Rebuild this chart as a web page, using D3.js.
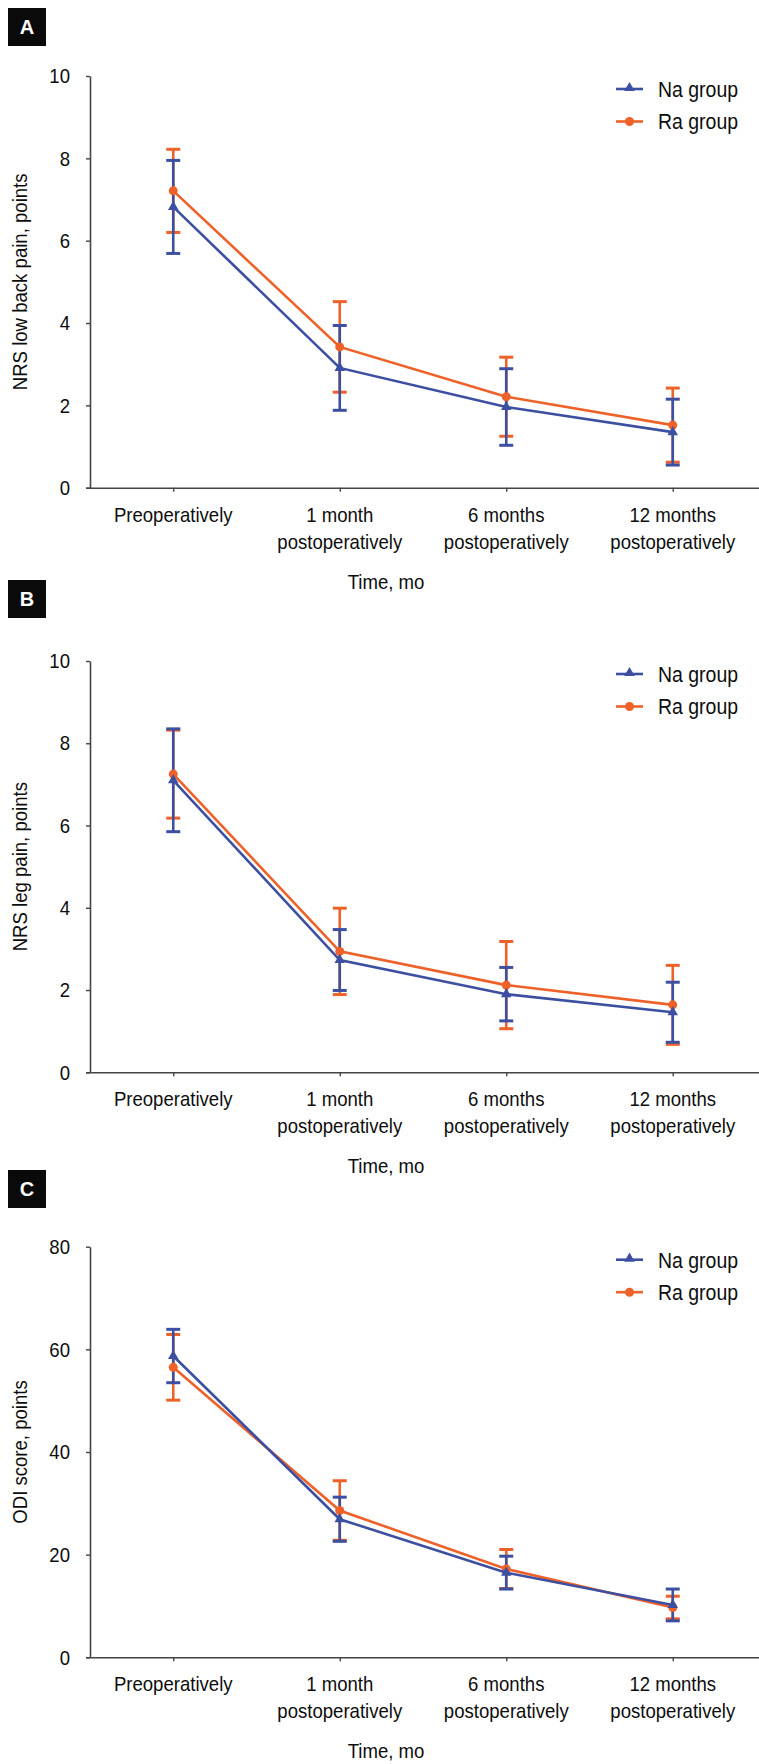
<!DOCTYPE html>
<html>
<head>
<meta charset="utf-8">
<script src="https://cdn.jsdelivr.net/npm/d3@7"></script>
<style>
  html, body { margin: 0; padding: 0; background: #fff; }
  svg text { font-family: "Liberation Sans", Arial, sans-serif; }
</style>
</head>
<body>
<div id="chart"></div>
<script>
const width = 759;
const height = 1764;

// time points (x axis), one array of lines per label
const categories = ['pre', 'm1', 'm6', 'm12'];
const categoryLines = [
  ['Preoperatively'],
  ['1 month', 'postoperatively'],
  ['6 months', 'postoperatively'],
  ['12 months', 'postoperatively']
];

const seriesNames = ['Na group', 'Ra group'];

// A: NRS low back pain (mean, SD)
const backNaMean = [6.82, 2.91, 1.96, 1.35];
const backNaSd = [1.13, 1.03, 0.93, 0.80];
const backRaMean = [7.21, 3.42, 2.21, 1.52];
const backRaSd = [1.01, 1.10, 0.96, 0.90];

// B: NRS leg pain
const legNaMean = [7.10, 2.73, 1.90, 1.46];
const legNaSd = [1.25, 0.74, 0.65, 0.73];
const legRaMean = [7.25, 2.94, 2.12, 1.64];
const legRaSd = [1.07, 1.05, 1.06, 0.96];

// C: ODI score
const odiNaMean = [58.7, 26.9, 16.5, 10.2];
const odiNaSd = [5.2, 4.3, 3.2, 3.1];
const odiRaMean = [56.5, 28.6, 17.2, 9.7];
const odiRaSd = [6.4, 5.8, 3.8, 2.2];

const yTicks10 = [0, 2, 4, 6, 8, 10];
const yTicks80 = [0, 20, 40, 60, 80];

const blue = '#3d4fa1';
const orange = '#ee6128';
const axisColor = '#444';
const textColor = '#0d0d0d';
const fontSize = '21px';
const narrow = 0.885; // squeeze to mimic the condensed face

const svg = d3.select('#chart')
  .append('svg')
  .attr('width', width)
  .attr('height', height)
  .attr('viewBox', `0 0 ${width} ${height}`);

const panels = [
  { letter: 'A', boxY: 8, top: 76, bottom: 487.7, yMax: 10, ticks: yTicks10,
    yTitle: 'NRS low back pain, points',
    na: [backNaMean, backNaSd], ra: [backRaMean, backRaSd] },
  { letter: 'B', boxY: 580, top: 661, bottom: 1072.3, yMax: 10, ticks: yTicks10,
    yTitle: 'NRS leg pain, points',
    na: [legNaMean, legNaSd], ra: [legRaMean, legRaSd] },
  { letter: 'C', boxY: 1170, top: 1246.7, bottom: 1657.3, yMax: 80, ticks: yTicks80,
    yTitle: 'ODI score, points',
    na: [odiNaMean, odiNaSd], ra: [odiRaMean, odiRaSd] }
];

const axisX = 90;

const xScale = d3.scalePoint()
  .domain(categories)
  .range([axisX, 756])
  .padding(0.5);

// text placed at (x, y) and squeezed horizontally
function narrowText(parent, x, y, anchor) {
  return parent.append('text')
    .attr('transform', `translate(${x},${y}) scale(${narrow},1)`)
    .attr('text-anchor', anchor)
    .attr('fill', textColor)
    .style('font-size', fontSize);
}

function drawPanel(p) {
  const g = svg.append('g');

  // panel letter box
  g.append('rect')
    .attr('x', 8).attr('y', p.boxY)
    .attr('width', 38).attr('height', 38)
    .attr('fill', '#0a0a0a');
  g.append('text')
    .attr('x', 27).attr('y', p.boxY + 19)
    .attr('text-anchor', 'middle')
    .attr('dominant-baseline', 'central')
    .attr('fill', '#fff')
    .style('font-weight', 'bold')
    .style('font-size', '20px')
    .text(p.letter);

  const yScale = d3.scaleLinear()
    .domain([0, p.yMax])
    .range([p.bottom, p.top]);

  // y axis
  const yAxis = g.append('g')
    .attr('transform', `translate(${axisX},0)`)
    .call(d3.axisLeft(yScale).tickValues(p.ticks).tickSize(4).tickSizeOuter(0).tickPadding(16));
  yAxis.attr('font-family', null).attr('font-size', null);
  yAxis.select('.domain').attr('stroke', axisColor).attr('stroke-width', 1.6);
  yAxis.selectAll('.tick line').attr('stroke', axisColor).attr('stroke-width', 1.4);
  yAxis.selectAll('.tick text')
    .attr('x', 0)
    .attr('transform', `translate(-20,0) scale(${narrow},1)`)
    .attr('fill', textColor)
    .style('font-size', fontSize);

  // x axis
  const xAxis = g.append('g')
    .attr('transform', `translate(0,${p.bottom})`)
    .call(d3.axisBottom(xScale).tickSize(4).tickSizeOuter(0).tickFormat(''));
  xAxis.attr('font-family', null).attr('font-size', null);
  xAxis.select('.domain')
    .attr('d', `M${axisX - 4},0.5H${width}`)
    .attr('stroke', axisColor).attr('stroke-width', 1.6);
  xAxis.selectAll('.tick line').attr('stroke', axisColor).attr('stroke-width', 1.4);

  // category labels (multi-line)
  const labels = g.append('g').attr('class', 'x-labels');
  categories.forEach((c, i) => {
    const t = narrowText(labels, xScale(c), p.bottom + 34, 'middle');
    categoryLines[i].forEach((line, j) => {
      t.append('tspan')
        .attr('x', 0)
        .attr('dy', j === 0 ? 0 : 27)
        .text(line);
    });
  });

  // axis titles
  narrowText(g, 386, p.bottom + 101, 'middle').text('Time, mo');

  g.append('text')
    .attr('transform', `translate(27,${(p.top + p.bottom) / 2}) rotate(-90) scale(${narrow},1)`)
    .attr('text-anchor', 'middle')
    .attr('fill', textColor)
    .style('font-size', fontSize)
    .text(p.yTitle);

  const makeRows = ([mean, sd]) => categories.map((c, i) => ({ c, mean: mean[i], sd: sd[i] }));
  const naRows = makeRows(p.na);
  const raRows = makeRows(p.ra);

  const line = d3.line()
    .x(d => xScale(d.c))
    .y(d => yScale(d.mean));

  function errorBars(rows, color) {
    const eb = g.append('g').attr('stroke', color).attr('stroke-width', 2.6).attr('fill', 'none');
    eb.selectAll('line.v')
      .data(rows)
      .join('line')
      .attr('class', 'v')
      .attr('x1', d => xScale(d.c)).attr('x2', d => xScale(d.c))
      .attr('y1', d => yScale(d.mean - d.sd)).attr('y2', d => yScale(d.mean + d.sd));
    eb.selectAll('line.top')
      .data(rows)
      .join('line')
      .attr('class', 'top')
      .attr('x1', d => xScale(d.c) - 7).attr('x2', d => xScale(d.c) + 7)
      .attr('y1', d => yScale(d.mean + d.sd)).attr('y2', d => yScale(d.mean + d.sd))
      .attr('stroke-width', 3);
    eb.selectAll('line.bot')
      .data(rows)
      .join('line')
      .attr('class', 'bot')
      .attr('x1', d => xScale(d.c) - 7).attr('x2', d => xScale(d.c) + 7)
      .attr('y1', d => yScale(d.mean - d.sd)).attr('y2', d => yScale(d.mean - d.sd))
      .attr('stroke-width', 3);
  }

  errorBars(raRows, orange);
  errorBars(naRows, blue);

  // Ra line + circles
  g.append('path')
    .datum(raRows)
    .attr('d', line)
    .attr('fill', 'none')
    .attr('stroke', orange)
    .attr('stroke-width', 2.6);
  g.append('g')
    .selectAll('circle')
    .data(raRows)
    .join('circle')
    .attr('cx', d => xScale(d.c))
    .attr('cy', d => yScale(d.mean))
    .attr('r', 4.5)
    .attr('fill', orange);

  // Na line + triangles
  g.append('path')
    .datum(naRows)
    .attr('d', line)
    .attr('fill', 'none')
    .attr('stroke', blue)
    .attr('stroke-width', 2.6);
  g.append('g')
    .selectAll('path')
    .data(naRows)
    .join('path')
    .attr('transform', d => `translate(${xScale(d.c)},${yScale(d.mean)})`)
    .attr('d', d3.symbol(d3.symbolTriangle, 48))
    .attr('fill', blue);

  // legend
  const legend = g.append('g').attr('transform', `translate(616,${p.top + 13})`);
  seriesNames.forEach((name, i) => {
    const color = i === 0 ? blue : orange;
    const row = legend.append('g').attr('transform', `translate(0,${i * 32.5})`);
    row.append('line')
      .attr('x1', 0).attr('x2', 27)
      .attr('stroke', color).attr('stroke-width', 2.6);
    if (i === 0) {
      row.append('path')
        .attr('transform', 'translate(13.5,-1)')
        .attr('d', d3.symbol(d3.symbolTriangle, 48))
        .attr('fill', color);
    } else {
      row.append('circle')
        .attr('cx', 13.5).attr('r', 4.5)
        .attr('fill', color);
    }
    narrowText(row, 42, 0, 'start')
      .attr('dominant-baseline', 'central')
      .style('font-size', '22px')
      .text(name);
  });
}

panels.forEach(drawPanel);
</script>
</body>
</html>
